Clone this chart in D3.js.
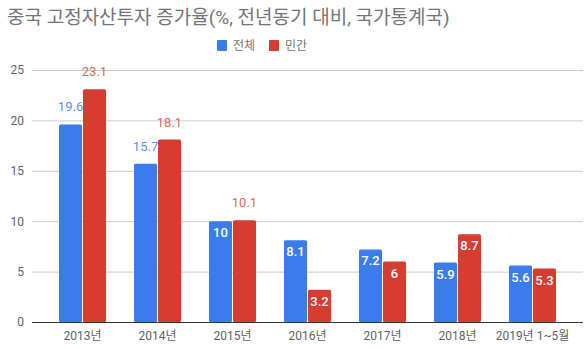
<!DOCTYPE html>
<html>
<head>
<meta charset="utf-8">
<script src="https://cdn.jsdelivr.net/npm/d3@7"></script>
<style>
  html, body { margin: 0; padding: 0; background: #fff; }
  svg { display: block; font-family: Roboto, "Noto Sans CJK KR", sans-serif; }
</style>
</head>
<body>
<svg id="chart" width="588" height="349"></svg>
<script>
// 중국 고정자산투자 증가율 (전년동기 대비, %)
const categories = ["2013년", "2014년", "2015년", "2016년", "2017년", "2018년", "2019년 1~5월"];
const seriesNames = ["전체", "민간"];
const totalValues = [19.6, 15.7, 10, 8.1, 7.2, 5.9, 5.6];
const privateValues = [23.1, 18.1, 10.1, 3.2, 6, 8.7, 5.3];
const yTicks = [0, 5, 10, 15, 20, 25];

const colors = ["#3b7ced", "#d63c30"];
const outsideLabelColors = ["#5a91f2", "#e5665b"];

const svg = d3.select("#chart");
const margin = { top: 70, right: 5, bottom: 27, left: 32 };
const width = 588, height = 349;

const x0 = d3.scaleBand()
  .domain(categories)
  .range([margin.left, width - margin.right])
  .paddingInner(0.373)
  .paddingOuter(0.36);

const x1 = d3.scaleBand()
  .domain(seriesNames)
  .range([0, x0.bandwidth()])
  .paddingInner(0.04);

const y = d3.scaleLinear()
  .domain([0, 25])
  .range([height - margin.bottom, margin.top]);

// Title
svg.append("text")
  .attr("x", 7)
  .attr("y", 24)
  .attr("fill", "#757575")
  .attr("font-size", 19)
  .text("중국 고정자산투자 증가율(%, 전년동기 대비, 국가통계국)");

// Legend
const legend = svg.append("g").attr("transform", "translate(217,40)");
const legendOffsets = [0, 52];
seriesNames.forEach((name, i) => {
  const g = legend.append("g").attr("transform", `translate(${legendOffsets[i]},0)`);
  g.append("rect").attr("width", 10).attr("height", 11).attr("rx", 1).attr("fill", colors[i]);
  g.append("text")
    .attr("x", 16).attr("y", 10)
    .attr("font-size", 12)
    .attr("fill", "#757575")
    .text(name);
});

// Gridlines and y labels
const yAxis = d3.axisLeft(y).tickValues(yTicks).tickSize(-(width - margin.right - margin.left)).tickPadding(8);
const yg = svg.append("g")
  .attr("transform", `translate(${margin.left},0)`)
  .call(yAxis);
yg.select(".domain").remove();
yg.selectAll(".tick line").attr("stroke", "#cccccc");
yg.selectAll(".tick text")
  .attr("fill", "#616161")
  .attr("font-size", 12)
  .attr("font-family", "Roboto, 'Noto Sans CJK KR', sans-serif");

// Bars
const rows = categories.map((c, i) => ({ cat: c, values: [totalValues[i], privateValues[i]] }));

const groups = svg.append("g").selectAll("g")
  .data(rows)
  .join("g")
  .attr("transform", d => `translate(${x0(d.cat)},0)`);

groups.selectAll("rect")
  .data(d => d.values.map((v, i) => ({ series: seriesNames[i], idx: i, value: v })))
  .join("rect")
  .attr("x", d => x1(d.series))
  .attr("y", d => y(d.value))
  .attr("width", x1.bandwidth())
  .attr("height", d => y(0) - y(d.value))
  .attr("rx", 1.5)
  .attr("fill", d => colors[d.idx]);

// Value labels: inside the bar when it is short enough, above it otherwise
groups.selectAll("text.value")
  .data(d => d.values.map((v, i) => ({ series: seriesNames[i], idx: i, value: v })))
  .join("text")
  .attr("class", "value")
  .attr("x", d => x1(d.series) + x1.bandwidth() / 2)
  .attr("y", d => d.value <= 10 ? y(d.value) + 16 : y(d.value) - 13)
  .attr("text-anchor", "middle")
  .attr("font-size", 13)
  .attr("font-weight", d => d.value <= 10 ? 500 : 400)
  .attr("fill", d => d.value <= 10 ? "#ffffff" : outsideLabelColors[d.idx])
  .text(d => d.value);

// Baseline and category labels
const xAxis = d3.axisBottom(x0).tickSize(0).tickPadding(9);
const xg = svg.append("g")
  .attr("transform", `translate(0,${y(0)})`)
  .call(xAxis);
xg.select(".domain").attr("stroke", "#333333").attr("d", `M${margin.left},0.5H${width - margin.right}`);
xg.selectAll(".tick text")
  .attr("fill", "#616161")
  .attr("font-size", 12)
  .attr("font-family", "Roboto, 'Noto Sans CJK KR', sans-serif");
</script>
</body>
</html>
